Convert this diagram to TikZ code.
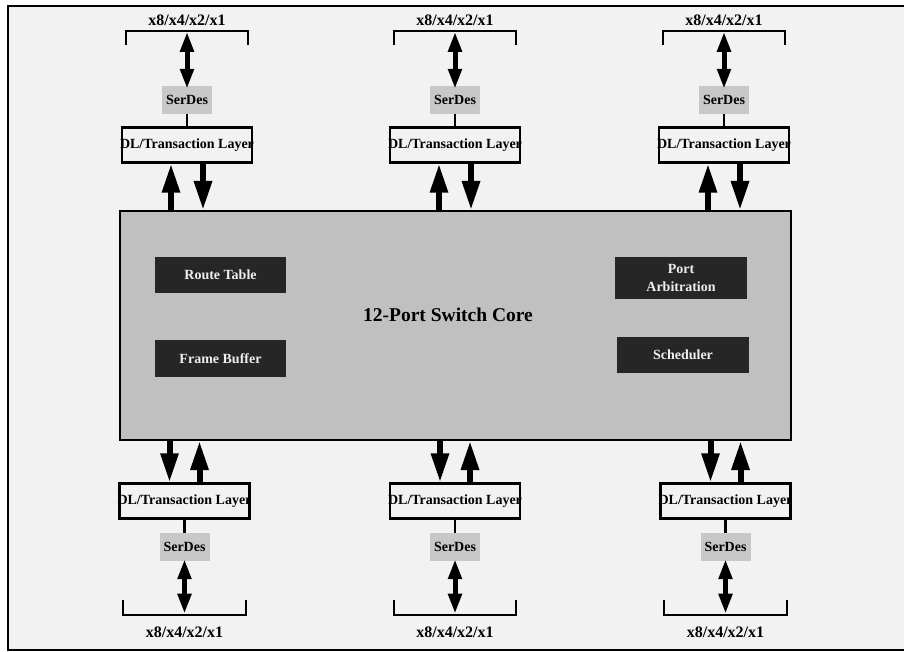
\documentclass[tikz,border=0pt]{standalone}
\usepackage{fontspec}
\setmainfont{Liberation Serif}
\usetikzlibrary{arrows.meta,calc}
\definecolor{bg}{HTML}{F2F2F2}
\definecolor{coregrey}{HTML}{C0C0C0}
\definecolor{sdgrey}{HTML}{C8C8C8}
\definecolor{darkfill}{HTML}{262626}
\definecolor{lighttext}{HTML}{EEEEEE}
\begin{document}
\begin{tikzpicture}[x=1pt,y=-1pt,
  dlbox/.style={draw, line width=2.5pt, minimum width=130pt, minimum height=35pt, inner sep=0pt, font=\bfseries\fontsize{14}{16}\selectfont},
  serdes/.style={fill=sdgrey, minimum width=50pt, minimum height=28pt, inner sep=0pt, font=\bfseries\fontsize{14}{16}\selectfont},
  darkbox/.style={fill=darkfill, text=lighttext, inner sep=0pt, align=center, font=\bfseries\fontsize{14}{18}\selectfont},
  bus/.style={minimum width=122pt, minimum height=14pt, inner sep=0pt},
  buslabel/.style={inner sep=0pt, font=\bfseries\fontsize{16}{18}\selectfont},
  busline/.style={line width=2pt},
  lane/.style={line width=5pt, {Triangle[length=20pt,width=13pt]}-{Triangle[length=20pt,width=13pt]}},
  flow/.style={line width=6pt, -{Triangle[length=29pt,width=17pt]}},
  link/.style={line width=2.5pt}
]
\useasboundingbox (0,0) rectangle (904,652);
\fill[white] (0,0) rectangle (904,652);
\fill[bg] (8,6) rectangle (904,650);
\draw[line width=2.5pt] (906,6) -- (8,6) -- (8,650) -- (906,650);

% core
\node[draw, line width=2pt, fill=coregrey, minimum width=671pt, minimum height=229pt, inner sep=0pt] (core) at (455.5,325.5) {};
\node[inner sep=0pt, font=\bfseries\fontsize{19.5}{22}\selectfont] (coretitle) at (448,315) {12-Port Switch Core};

\node[darkbox, minimum width=131pt, minimum height=36pt] (rt) at (220.5,275) {Route Table};
\node[darkbox, minimum width=131pt, minimum height=37pt] (fb) at (220.5,358.5) {Frame Buffer};
\node[darkbox, minimum width=132pt, minimum height=42pt] (pa) at (681,278) {Port\\Arbitration};
\node[darkbox, minimum width=132pt, minimum height=36pt] (sch) at (683,355) {Scheduler};

% top ports
\foreach \i/\cx in {1/187,2/455,3/724}{
  \node[buslabel] (tl\i) at (\cx,20) {x8/x4/x2/x1};
  \node[bus] (tb\i) at (\cx,38) {};
  \draw[busline] (tb\i.south west) -- (tb\i.north west) -- (tb\i.north east) -- (tb\i.south east);
  \node[serdes] (ts\i) at (\cx,100) {SerDes};
  \node[dlbox] (td\i) at (\cx,145) {\makebox[0pt][c]{DL/Transaction Layer}};
  \draw[lane] ([yshift=-1pt]tb\i.north) -- ([yshift=-3pt]ts\i.north);
  \draw[link] (ts\i) -- (td\i);
  \draw[flow] ([xshift=-16pt]td\i.south |- core.north) -- ([xshift=-16pt]td\i.south);
  \draw[flow] ([xshift=16pt]td\i.south) -- ([xshift=16pt]td\i.south |- core.north);
}

% bottom ports
\foreach \i/\cx in {1/184.5,2/455,3/725.5}{
  \node[dlbox] (bd\i) at (\cx,501) {\makebox[0pt][c]{DL/Transaction Layer}};
  \node[serdes] (bs\i) at (\cx,547) {SerDes};
  \node[bus] (bb\i) at (\cx,607.5) {};
  \draw[busline] (bb\i.north west) -- (bb\i.south west) -- (bb\i.south east) -- (bb\i.north east);
  \node[buslabel] (bl\i) at (\cx,632) {x8/x4/x2/x1};
  \draw[lane] ([yshift=2pt]bs\i.south) -- ([yshift=1pt]bb\i.south);
  \draw[link] (bd\i) -- (bs\i);
  \draw[flow] ([xshift=-15pt]bd\i.north |- core.south) -- ([xshift=-15pt]bd\i.north);
  \draw[flow] ([xshift=15pt]bd\i.north) -- ([xshift=15pt]bd\i.north |- core.south);
}
\end{tikzpicture}
\end{document}
